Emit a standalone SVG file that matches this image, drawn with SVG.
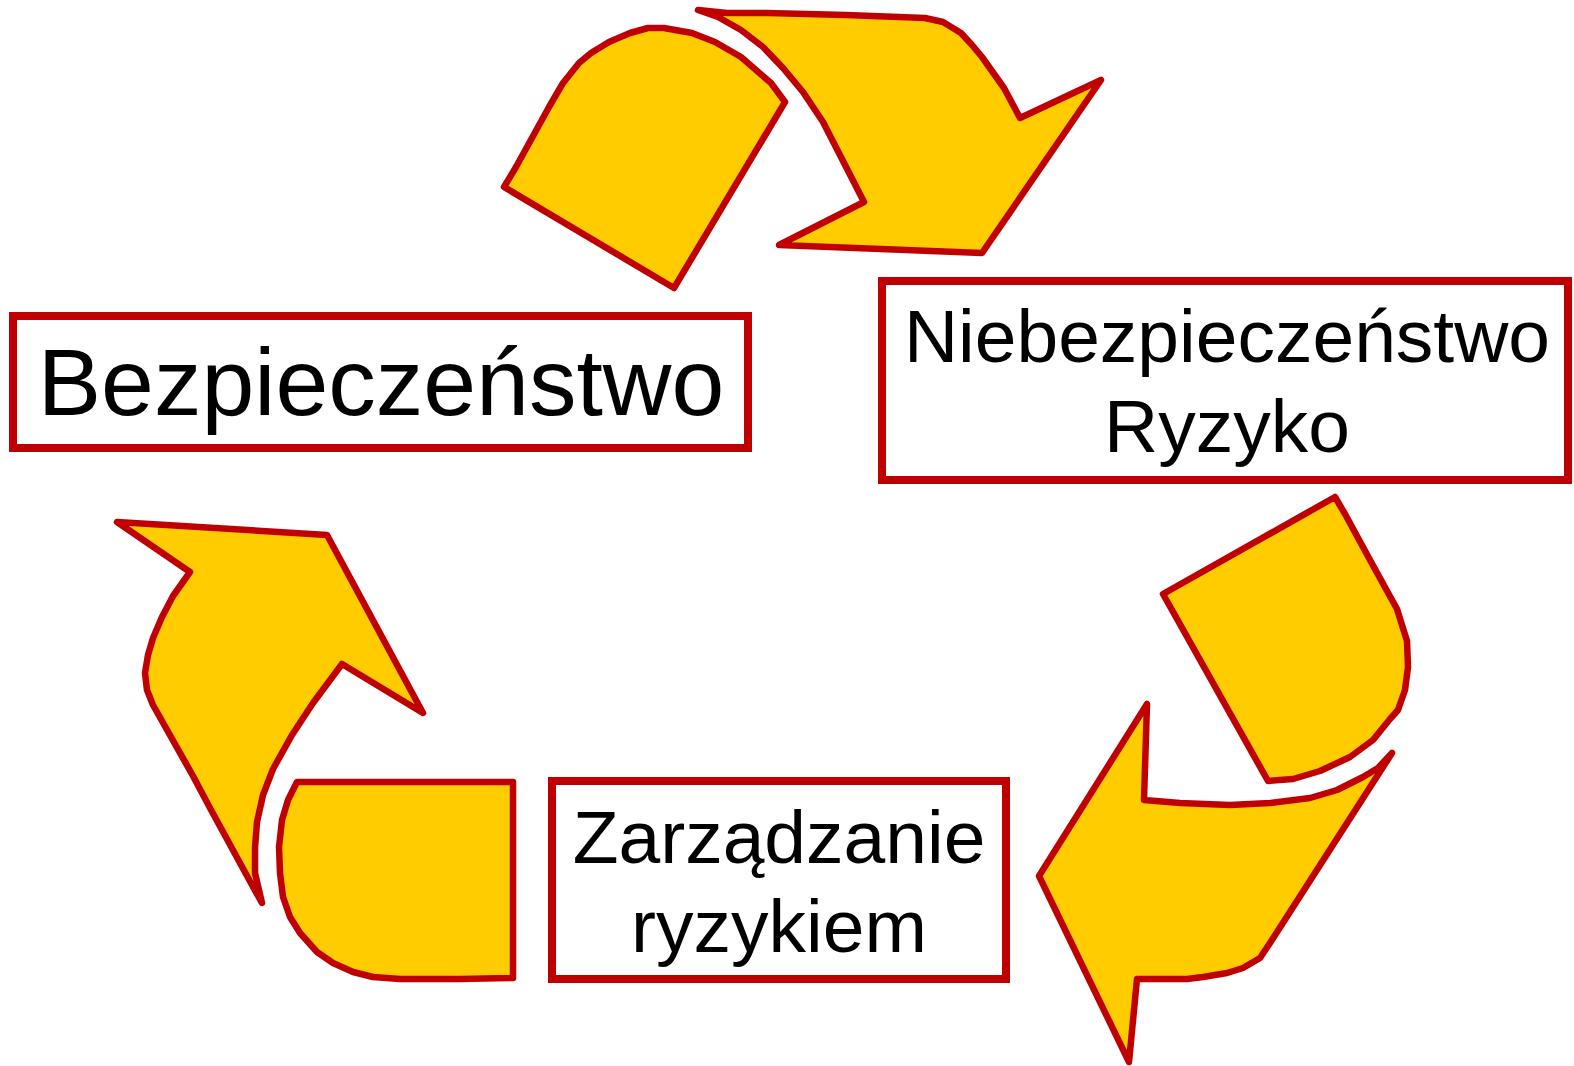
<svg xmlns="http://www.w3.org/2000/svg" width="1574" height="1066" viewBox="0 0 1574 1066">
<style>
.arr{fill:#FFCC00;stroke:#C00000;stroke-width:6.5;stroke-linejoin:round;stroke-linecap:round}
.box{fill:#FFFFFF;stroke:#C00000;stroke-width:8}
.lbl{font-family:"Liberation Sans",Arial,sans-serif;fill:#000000;text-anchor:middle}
</style>
<rect width="1574" height="1066" fill="#FFFFFF"/>
<g id="connectors">
<path id="arrow-top-tail" class="arr" d="M504,187 L674,288 L785,102 L771,83 L741,57 L715,42 L692,33 L664,28 L648,28 L630,33 L609,42 L591,53 L579,63 L563,83 L549,107 L516,167 Z"/>
<path id="arrow-top-head" class="arr" d="M698,10 L727,13 L767,13 L846,15 L925,18 L943,22 L961,33 L972,45 L982,57 L1004,88 L1020,118 L1101,80 L982,253 L779,245 L864,202 L843,161 L823,122 L803,92 L783,68 L763,47 L741,30 L718,17 Z"/>
<path id="arrow-right-tail" class="arr" d="M1163,594 L1335,497 L1345,514 L1370,560 L1397,609 L1407,641 L1408,667 L1405,690 L1398,710 L1390,719 L1373,740 L1350,757 L1320,771 L1293,779 L1268,781 Z"/>
<path id="arrow-right-head" class="arr" d="M1147,704 L1144,800 L1180,803 L1230,805 L1270,803 L1310,798 L1337,790 L1363,777 L1378,768 L1392,753 L1270,943 L1260,958 L1243,968 L1227,973 L1203,977 L1187,979 L1137,979 L1129,1062 L1039,876 Z"/>
<path id="arrow-left-tail" class="arr" d="M297,782 L513,782 L513,978 L460,979 L400,979 L373,977 L353,972 L333,963 L317,952 L300,933 L290,917 L283,897 L280,873 L279,847 L282,820 L288,800 Z"/>
<path id="arrow-left-head" class="arr" d="M117,522 L327,535 L423,713 L342,664 L313,703 L292,735 L273,769 L263,795 L257,822 L255,848 L255,873 L262,903 L252,885 L234,852 L210,808 L193,776 L153,705 L147,690 L145,673 L148,655 L153,638 L162,617 L173,596 L190,572 Z"/>
</g>
<g id="node-bezpieczenstwo">
<rect class="box" x="13" y="316" width="735" height="132"/>
<text class="lbl" x="381" y="415" font-size="95">Bezpieczeństwo</text>
</g>
<g id="node-niebezpieczenstwo">
<rect class="box" x="882" y="281" width="686" height="199"/>
<text class="lbl" x="1227" y="362" font-size="75">Niebezpieczeństwo</text>
<text class="lbl" x="1227" y="452" font-size="75">Ryzyko</text>
</g>
<g id="node-zarzadzanie">
<rect class="box" x="552" y="781" width="454" height="198"/>
<text class="lbl" x="779" y="863" font-size="75">Zarządzanie</text>
<text class="lbl" x="779" y="952" font-size="75">ryzykiem</text>
</g>
</svg>
